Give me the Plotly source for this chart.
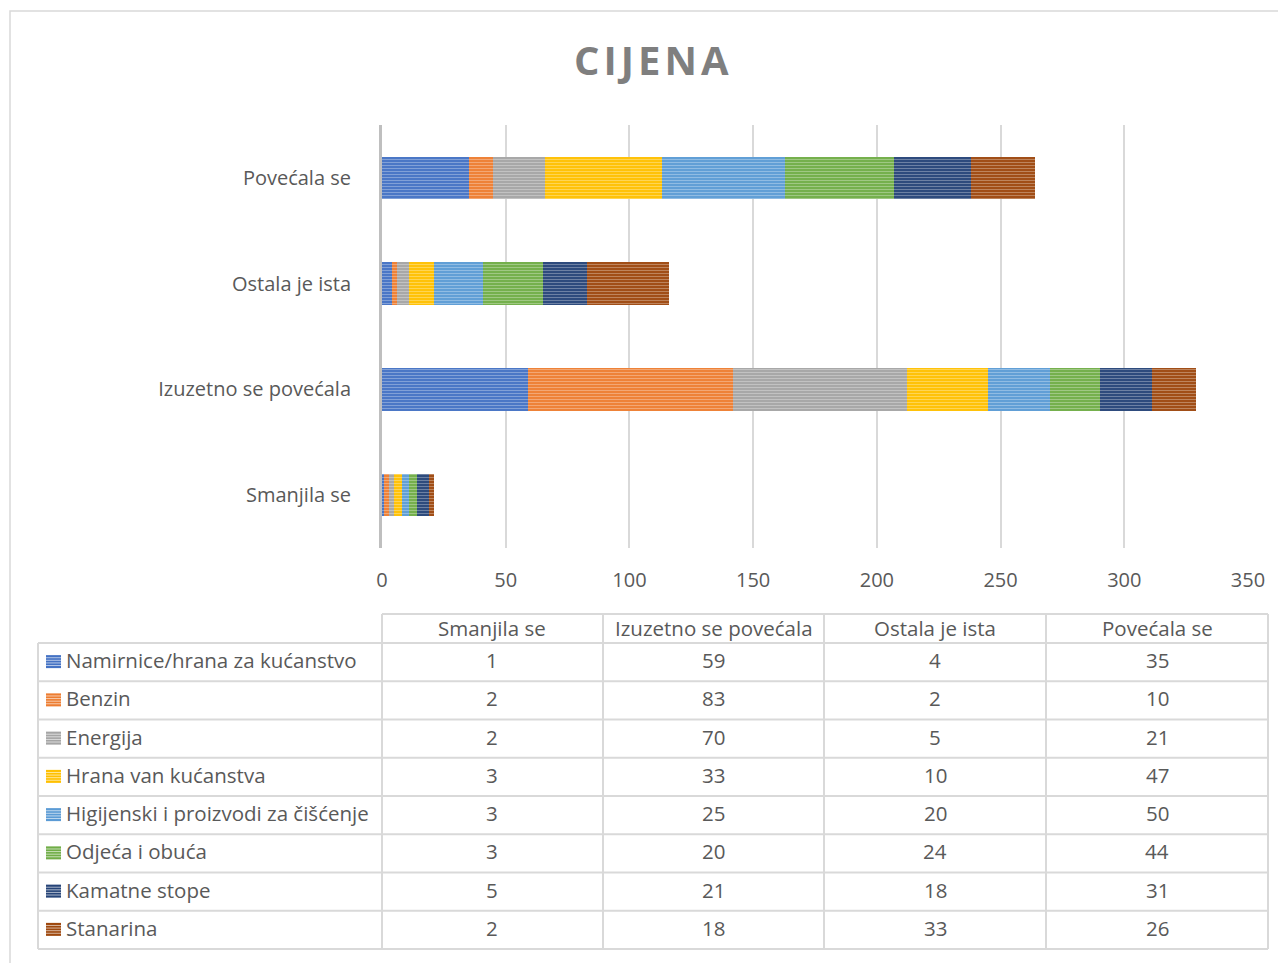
import plotly.graph_objects as go

# figure size chosen so that the page (with the 8px body margin) fits the window
W, H = 1270, 955
OFF = 8

categories = ["Smanjila se", "Izuzetno se povećala", "Ostala je ista", "Povećala se"]
series_names = [
    "Namirnice/hrana za kućanstvo",
    "Benzin",
    "Energija",
    "Hrana van kućanstva",
    "Higijenski i proizvodi za čišćenje",
    "Odjeća i obuća",
    "Kamatne stope",
    "Stanarina",
]
namirnice = [1, 59, 4, 35]
benzin = [2, 83, 2, 10]
energija = [2, 70, 5, 21]
hrana_van = [3, 33, 10, 47]
higijenski = [3, 25, 20, 50]
odjeca = [3, 20, 24, 44]
kamatne = [5, 21, 18, 31]
stanarina = [2, 18, 33, 26]
series_values = [namirnice, benzin, energija, hrana_van, higijenski, odjeca, kamatne, stanarina]
colors = ["#4472C4", "#ED7D31", "#A5A5A5", "#FFC000", "#5B9BD5", "#70AD47", "#264478", "#9E480E"]
x_ticks = [0, 50, 100, 150, 200, 250, 300, 350]
title_text = "C\u200aI\u200aJ\u200aE\u200aN\u200aA"


def px(x):
    return (x - OFF) / W


def py(y):
    return 1 - (y - OFF) / H


fig = go.Figure()
for name, vals, col in zip(series_names, series_values, colors):
    fig.add_trace(go.Bar(
        y=categories, x=vals, name=name, orientation="h",
        marker=dict(
            color=col,
            line=dict(width=0),
            pattern=dict(shape="-", fillmode="overlay", bgcolor=col,
                         fgcolor="rgba(255,255,255,0.65)", size=3, solidity=0.4),
        ),
        showlegend=False,
        hoverinfo="x+name",
    ))

# plot area (window pixels)
PL, PR, PT, PB = 382, 1248, 125, 548

font_family = "Open Sans, Noto Sans, sans-serif"
grey_text = "#595959"
border = "#d9d9d9"

shapes = []
annotations = []

# outer chart border
shapes.append(dict(type="rect", xref="paper", yref="paper",
                   x0=px(10), x1=px(1320), y0=py(1020), y1=py(11),
                   line=dict(color=border, width=1.5), fillcolor="rgba(0,0,0,0)", layer="below"))

# data table geometry
col_edges = [38, 382, 603, 824, 1046, 1268]
head_top, head_bot = 614, 643
row_h = (949 - 643) / len(series_names)
row_edges = [head_bot + i * row_h for i in range(len(series_names) + 1)]
line_style = dict(color=border, width=2)

# horizontal lines
shapes.append(dict(type="line", xref="paper", yref="paper", x0=px(col_edges[1]), x1=px(col_edges[-1]),
                   y0=py(head_top), y1=py(head_top), line=line_style))
for ye in row_edges:
    shapes.append(dict(type="line", xref="paper", yref="paper", x0=px(col_edges[0]), x1=px(col_edges[-1]),
                       y0=py(ye), y1=py(ye), line=line_style))
# vertical lines
shapes.append(dict(type="line", xref="paper", yref="paper", x0=px(col_edges[0]), x1=px(col_edges[0]),
                   y0=py(head_bot), y1=py(row_edges[-1]), line=line_style))
for xe in col_edges[1:]:
    shapes.append(dict(type="line", xref="paper", yref="paper", x0=px(xe), x1=px(xe),
                       y0=py(head_top), y1=py(row_edges[-1]), line=line_style))

tbl_font = dict(family=font_family, size=20.5, color=grey_text)

# header texts
for j, cat in enumerate(categories):
    cx = (col_edges[j + 1] + col_edges[j + 2]) / 2
    annotations.append(dict(text=cat, xref="paper", yref="paper", x=px(cx), y=py((head_top + head_bot) / 2 - 1),
                            xanchor="center", yanchor="middle", showarrow=False, font=tbl_font))

# rows
for i, (name, vals, col) in enumerate(zip(series_names, series_values, colors)):
    yc = (row_edges[i] + row_edges[i + 1]) / 2
    # legend key
    k0, k1 = 46, 61
    ky0, ky1 = yc - 7, yc + 6
    shapes.append(dict(type="rect", xref="paper", yref="paper", x0=px(k0), x1=px(k1),
                       y0=py(ky1), y1=py(ky0), fillcolor=col, line=dict(width=0)))
    for s in range(1, 5):
        ys = ky0 + s * (ky1 - ky0) / 5
        shapes.append(dict(type="line", xref="paper", yref="paper", x0=px(k0), x1=px(k1),
                           y0=py(ys), y1=py(ys), line=dict(color="rgba(255,255,255,0.6)", width=1)))
    annotations.append(dict(text=name, xref="paper", yref="paper", x=px(64), y=py(yc - 2),
                            xanchor="left", yanchor="middle", showarrow=False, font=tbl_font))
    for j, v in enumerate(vals):
        cx = (col_edges[j + 1] + col_edges[j + 2]) / 2
        annotations.append(dict(text=str(v), xref="paper", yref="paper", x=px(cx), y=py(yc - 2),
                                xanchor="center", yanchor="middle", showarrow=False, font=tbl_font))

# title
annotations.append(dict(text="<b>" + title_text + "</b>", xref="paper", yref="paper", x=px(651), y=py(60),
                        xanchor="center", yanchor="middle", showarrow=False,
                        font=dict(family=font_family, size=40, color="#7f7f7f")))

fig.update_layout(
    width=W, height=H, autosize=False,
    margin=dict(l=0, r=0, t=0, b=0, pad=0),
    paper_bgcolor="white", plot_bgcolor="white",
    barmode="stack", bargap=0.6,
    shapes=shapes, annotations=annotations,
    xaxis=dict(domain=[px(PL), px(PR)], range=[0, 350], tickvals=x_ticks, automargin=False,
               showgrid=True, gridcolor=border, gridwidth=2, zeroline=False, showline=False,
               ticks="outside", ticklen=14, tickcolor="rgba(0,0,0,0)",
               tickfont=dict(family=font_family, size=20, color=grey_text)),
    yaxis=dict(domain=[py(PB), py(PT)], type="category", categoryorder="array", automargin=False,
               categoryarray=categories, range=[-0.5, len(categories) - 0.5],
               showgrid=False, zeroline=False, showline=True, linecolor="#bfbfbf", linewidth=3,
               ticks="outside", ticklen=24, tickcolor="rgba(0,0,0,0)",
               tickfont=dict(family=font_family, size=20, color=grey_text)),
)

fig.write_html("out.html")
